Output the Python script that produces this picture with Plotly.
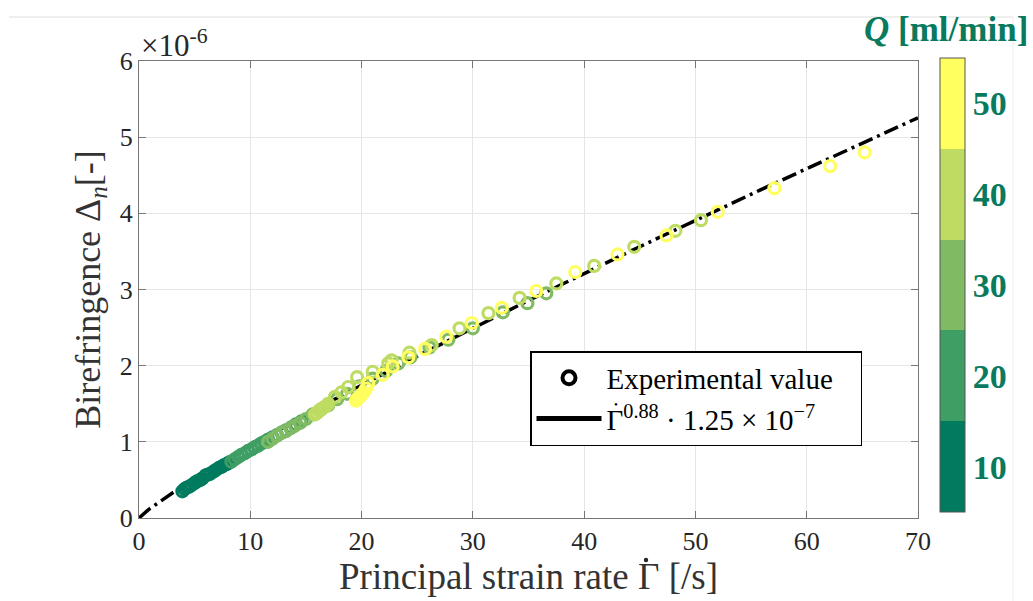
import plotly.graph_objects as go

# ---- data (strain rate [1/s], birefringence [x1e-6], flow rate [ml/min]) ----
rate_q10 = [3.9, 4.1, 4.3, 4.5, 4.7, 5.0, 5.2, 5.5, 5.7, 6.0, 6.2, 6.4, 6.7, 6.9,
            7.2, 7.4, 7.6, 7.9, 8.1]
bire_q10 = [0.35, 0.38, 0.40, 0.41, 0.43, 0.46, 0.48, 0.50, 0.52, 0.56, 0.57, 0.58,
            0.61, 0.63, 0.66, 0.67, 0.69, 0.71, 0.73]

rate_q20 = [8.3, 8.6, 8.9, 9.2, 9.5, 9.8, 10.1, 10.4, 10.7, 11.0, 11.3, 11.6, 12.0,
            12.4, 12.8, 13.2, 13.7, 14.1, 14.6]
bire_q20 = [0.74, 0.77, 0.80, 0.83, 0.85, 0.88, 0.90, 0.93, 0.95, 0.98, 1.00, 1.03,
            1.06, 1.09, 1.12, 1.15, 1.19, 1.23, 1.27]

rate_q30 = [11.6, 12.0, 12.4, 12.8, 13.2, 13.6, 14.0, 14.5, 15.0, 15.6, 16.3, 17.0,
            17.8, 18.7, 19.8, 21.0, 22.2, 23.3, 24.4, 26.1, 27.8, 30.0, 32.7, 34.9, 36.6]
bire_q30 = [1.00, 1.04, 1.08, 1.12, 1.14, 1.18, 1.21, 1.25, 1.30, 1.36, 1.42, 1.48,
            1.56, 1.63, 1.73, 1.83, 1.93, 2.03, 2.11, 2.24, 2.34, 2.49, 2.70, 2.82, 2.95]

rate_q40 = [15.8, 16.0, 16.2, 16.4, 16.6, 16.8, 17.0, 17.6, 18.2, 18.8, 19.6, 21.0,
            22.4, 22.7, 24.3, 26.3, 28.8, 31.4, 34.2, 37.5, 40.9, 44.5, 48.2, 50.5]
bire_q40 = [1.36, 1.38, 1.41, 1.43, 1.45, 1.47, 1.50, 1.59, 1.65, 1.72, 1.85, 1.92,
            2.03, 2.07, 2.17, 2.27, 2.49, 2.69, 2.89, 3.08, 3.31, 3.56, 3.77, 3.91]

rate_q50 = [19.5, 19.6, 19.7, 19.8, 19.9, 20.0, 20.2, 20.4, 20.6, 21.9, 22.8, 24.2,
            25.7, 27.6, 29.9, 32.6, 35.7, 39.2, 43.0, 47.4, 52.0, 57.1, 62.1, 65.2]
bire_q50 = [1.54, 1.56, 1.57, 1.59, 1.60, 1.62, 1.65, 1.70, 1.77, 1.88, 1.99, 2.11,
            2.22, 2.38, 2.56, 2.76, 2.98, 3.23, 3.46, 3.71, 4.02, 4.33, 4.62, 4.80]

flow_levels = [10, 20, 30, 40, 50]
fit_exponent = 0.88
fit_coeff = 1.25e-7
x_ticks = [0, 10, 20, 30, 40, 50, 60, 70]
y_ticks = [0, 1, 2, 3, 4, 5, 6]

groups = [(rate_q10, bire_q10), (rate_q20, bire_q20), (rate_q30, bire_q30),
          (rate_q40, bire_q40), (rate_q50, bire_q50)]
xs, ys, qs = [], [], []
for q, (gx, gy) in zip(flow_levels, groups):
    xs += gx
    ys += gy
    qs += [q] * len(gx)

# fit curve
fit_x = [i * 0.25 for i in range(0, 281)]
fit_y = [(g ** fit_exponent) * fit_coeff / 1e-6 for g in fit_x]

bin_colors = ["#007B5F", "#3F9E63", "#80BA63", "#BEDC62", "#FFFF5F"]
cs = []
for i, c in enumerate(bin_colors):
    cs.append([i / 5, c])
    cs.append([(i + 1) / 5, c])

serif = "Liberation Serif"
teal = "#0A7A5E"

# plot area in page pixels
L, R, T, B = 139, 918, 61, 518
PW, PH = R - L, B - T


def px(xp):
    return (xp - L) / PW


def py(yp):
    return (B - yp) / PH


def dot(xp, yp, r=2.2):
    return dict(type="circle", xref="paper", yref="paper",
                xsizemode="pixel", ysizemode="pixel",
                xanchor=px(xp), yanchor=py(yp),
                x0=-r, x1=r, y0=-r, y1=r,
                fillcolor="#262626", line=dict(width=0))


fig = go.Figure()

fig.add_trace(go.Scatter(
    x=fit_x, y=fit_y, mode="lines",
    line=dict(color="black", width=3.5, dash="15px,5px,3px,5px"),
    showlegend=False, hoverinfo="skip"))

fig.add_trace(go.Scatter(
    x=xs, y=ys, mode="markers", showlegend=False,
    marker=dict(symbol="circle-open", size=11, color=qs, colorscale=cs,
                cmin=5, cmax=55, line=dict(width=3.2),
                colorbar=dict(
                    x=px(940), xanchor="left", xpad=0,
                    y=py(285), yanchor="middle", ypad=0,
                    len=(512 - 58) / PH, thickness=25,
                    outlinecolor="#555555", outlinewidth=1,
                    tickvals=flow_levels, ticks="",
                    tickfont=dict(family=serif, size=34, color=teal,
                                  weight="bold")))))

# legend-only traces
fig.add_trace(go.Scatter(
    x=[None], y=[None], mode="markers",
    name="Experimental value\u00a0\u00a0\u00a0",
    marker=dict(symbol="circle-open", size=13, color="black", line=dict(width=4))))
fig.add_trace(go.Scatter(
    x=[None], y=[None], mode="lines",
    name="Γ<sup>0.88</sup> · 1.25 × 10<sup>−7</sup>",
    line=dict(color="black", width=5)))

axis_common = dict(
    showline=True, linecolor="#777777", linewidth=1.2, mirror="ticks",
    ticks="inside", ticklen=7, tickcolor="#777777",
    showgrid=True, gridcolor="#E6E6E6", gridwidth=1, zeroline=False,
    tickfont=dict(family=serif, size=26, color="#262626"))

fig.update_xaxes(range=[0, 70], tickvals=x_ticks,
                 title=dict(text="Principal strain rate Γ [/s]",
                            font=dict(family=serif, size=37, color="#333333"),
                            standoff=2),
                 **axis_common)
fig.update_yaxes(range=[0, 6], tickvals=y_ticks,
                 title=dict(text="Birefringence Δ<sub><i>n</i></sub>[-]",
                            font=dict(family=serif, size=36, color="#333333"),
                            standoff=8),
                 **axis_common)

fig.update_layout(
    width=1033, height=601,
    margin=dict(l=L, r=1033 - R, t=T, b=601 - B),
    paper_bgcolor="white", plot_bgcolor="white",
    legend=dict(x=px(530), y=py(351), xanchor="left", yanchor="top",
                bgcolor="white", bordercolor="black", borderwidth=1.5,
                font=dict(family=serif, size=29, color="black"),
                itemwidth=65, tracegroupgap=2),
    annotations=[
        dict(text="×10<sup>-6</sup>", xref="paper", yref="paper", x=0.0, y=1.0,
             xanchor="left", yanchor="bottom", showarrow=False, yshift=-4,
             font=dict(family=serif, size=31, color="#262626")),
        dict(text="<b><i>Q</i> [ml/min]</b>", xref="paper", yref="paper",
             x=px(946), y=py(30),
             xanchor="center", yanchor="middle", showarrow=False,
             font=dict(family=serif, size=35, color=teal)),
        dict(text="•", xref="paper", yref="paper", x=px(616), y=py(404),
             xanchor="center", yanchor="middle", showarrow=False,
             font=dict(family=serif, size=11, color="black")),
    ],
    shapes=[
        dict(type="line", xref="paper", yref="paper",
             x0=px(9), x1=px(1013), y0=py(17), y1=py(17),
             line=dict(color="#DDDDDD", width=1)),
        dict(type="line", xref="paper", yref="paper",
             x0=px(1013), x1=px(1013), y0=py(17), y1=py(601),
             line=dict(color="#EEEEEE", width=1)),
        dot(646, 560),
    ],
)

fig.write_html("out.html")
